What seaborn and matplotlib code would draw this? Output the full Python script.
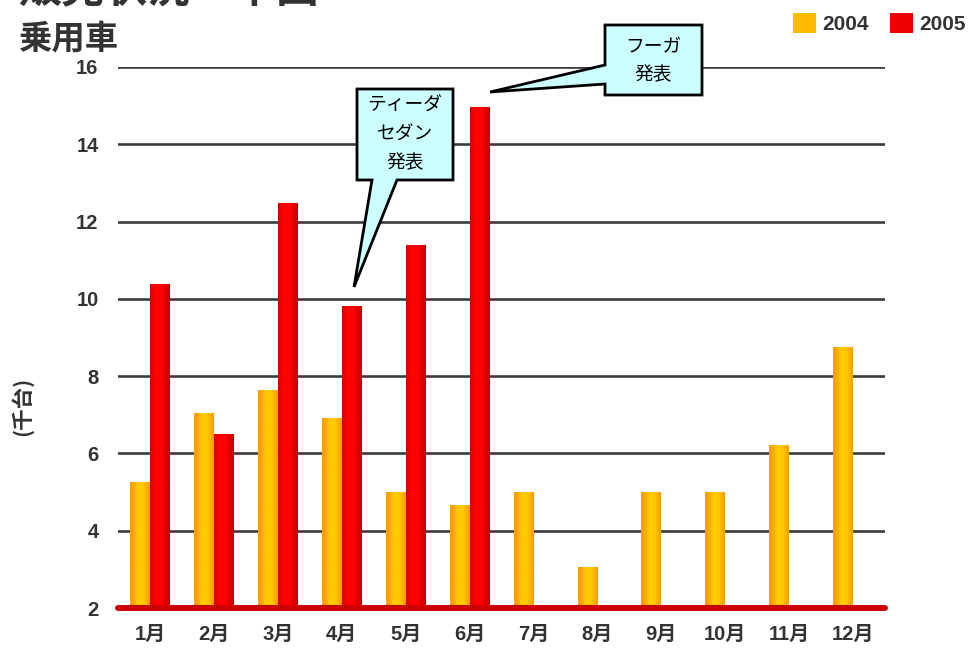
import numpy as np
import pandas as pd
import matplotlib
matplotlib.use("Agg")
import matplotlib.pyplot as plt
import seaborn as sns
from matplotlib.patches import Polygon, Patch
from matplotlib.colors import to_rgb

months = ["1月", "2月", "3月", "4月", "5月", "6月", "7月", "8月", "9月", "10月", "11月", "12月"]
years = ["2004", "2005"]
sales_2004 = [5.25, 7.03, 7.64, 6.9, 5.0, 4.64, 5.0, 3.05, 5.0, 5.0, 6.2, 8.74]
sales_2005 = [10.36, 6.49, 12.46, 9.8, 11.38, 14.95, np.nan, np.nan, np.nan, np.nan, np.nan, np.nan]
yticks = [2, 4, 6, 8, 10, 12, 14, 16]
title = "販売状況・中国"
subtitle = "乗用車"
ylabel = "(千台)"
note1 = "ティーダ\nセダン\n発表"
note2 = "フーガ\n発表"

df = pd.DataFrame({
    "month": months * 2,
    "year": [years[0]] * 12 + [years[1]] * 12,
    "value": sales_2004 + sales_2005,
})

sns.set_theme(style="white")
plt.rcParams["font.family"] = ["Noto Sans CJK JP", "DejaVu Sans"]
MIX = ["Liberation Sans", "Noto Sans CJK JP", "DejaVu Sans"]

W, H = 978, 648
fig = plt.figure(figsize=(W / 100, H / 100), dpi=100)
ax = fig.add_axes([118 / W, 1 - 608 / H, (885 - 118) / W, (608 - 67) / H])

palette = {"2004": "#ffb000", "2005": "#e80000"}
sns.barplot(data=df, x="month", y="value", hue="year", order=months, hue_order=years,
            palette=palette, width=0.62, saturation=1, legend=False, ax=ax, zorder=3)

# gradient fills
grad_cols = {
    0: ["#ff9900", "#ffa800", "#ffcc00", "#ffcc00", "#ffb800", "#ff9900"],
    1: ["#cc0000", "#ff0000", "#ff0000", "#ff0000", "#dd0000", "#c00000"],
}
for ci, cont in enumerate(ax.containers):
    cols = np.array([to_rgb(c) for c in grad_cols[ci]])
    xs = np.linspace(0, 1, len(cols))
    xi = np.linspace(0, 1, 40)
    grad = np.stack([np.interp(xi, xs, cols[:, k]) for k in range(3)], axis=-1)[None, :, :]
    for p in cont.patches:
        h = p.get_height()
        if not np.isfinite(h) or h == 0:
            continue
        x0, w = p.get_x(), p.get_width()
        ax.imshow(grad, extent=[x0, x0 + w, 0, h], aspect="auto", zorder=3.5,
                  interpolation="bilinear")
        p.set_alpha(0)

ax.set_xlim(-0.5, 11.5)
ax.set_ylim(2, 16)
ax.set_yticks(yticks)
ax.set_yticklabels([str(t) for t in yticks])
ax.grid(False)
for t in yticks[1:]:
    ax.axhline(t, color="#3c3c3c", lw=1.9, zorder=2)
ax.axhline(2, color="#cc0000", lw=4.3, zorder=5, clip_on=False)
for s in ax.spines.values():
    s.set_visible(False)
ax.tick_params(axis="both", length=0, colors="#333333")
ax.tick_params(axis="y", pad=14)
ax.tick_params(axis="x", pad=12)
for lab in ax.get_xticklabels() + ax.get_yticklabels():
    lab.set_fontweight("bold")
    lab.set_family(MIX)
    lab.set_fontsize(14.5)
ax.set_xlabel("")
ax.set_ylabel("")

# titles
fig.text(18 / W, 1 - 11 / H, title, fontsize=31, fontweight="bold", color="#333333",
         ha="left", va="bottom")
fig.text(19 / W, 1 - 39 / H, subtitle, fontsize=24, fontweight="bold", color="#333333",
         ha="left", va="center")
fig.text(22 / W, 1 - 406 / H, ylabel, fontsize=15.5, fontweight="bold", color="#333333",
         rotation=90, ha="center", va="center")

# callouts
def fig_poly(pts):
    return [(x / W, 1 - y / H) for x, y in pts]

c1 = [(357, 89), (453, 89), (453, 180), (397, 180), (354, 287), (372, 180), (357, 180)]
c2 = [(605, 25), (702, 25), (702, 95), (605, 95), (605, 84), (490, 92), (605, 65)]
for pts in (c1, c2):
    fig.add_artist(Polygon(fig_poly(pts), closed=True, transform=fig.transFigure,
                           facecolor="#ccffff", edgecolor="black", lw=2, zorder=10))
fig.text(405 / W, 1 - 134 / H, note1, fontsize=13.5, ha="center", va="center",
         linespacing=1.5, zorder=11, color="black")
fig.text(653 / W, 1 - 61 / H, note2, fontsize=13.5, ha="center", va="center",
         linespacing=1.45, zorder=11, color="black")

handles = [Patch(facecolor="#ffbb00", edgecolor="none"), Patch(facecolor="#ee0000", edgecolor="none")]
leg = fig.legend(handles, years, loc="upper right", bbox_to_anchor=(984 / W, 1 + 6 / H),
                 ncol=2, frameon=False, handlelength=1.1, handleheight=1.1,
                 handletextpad=0.3, columnspacing=1.0,
                 prop={"size": 15, "weight": "bold", "family": MIX})
for t in leg.get_texts():
    t.set_color("#333333")

fig.savefig("out.png", dpi=100)
